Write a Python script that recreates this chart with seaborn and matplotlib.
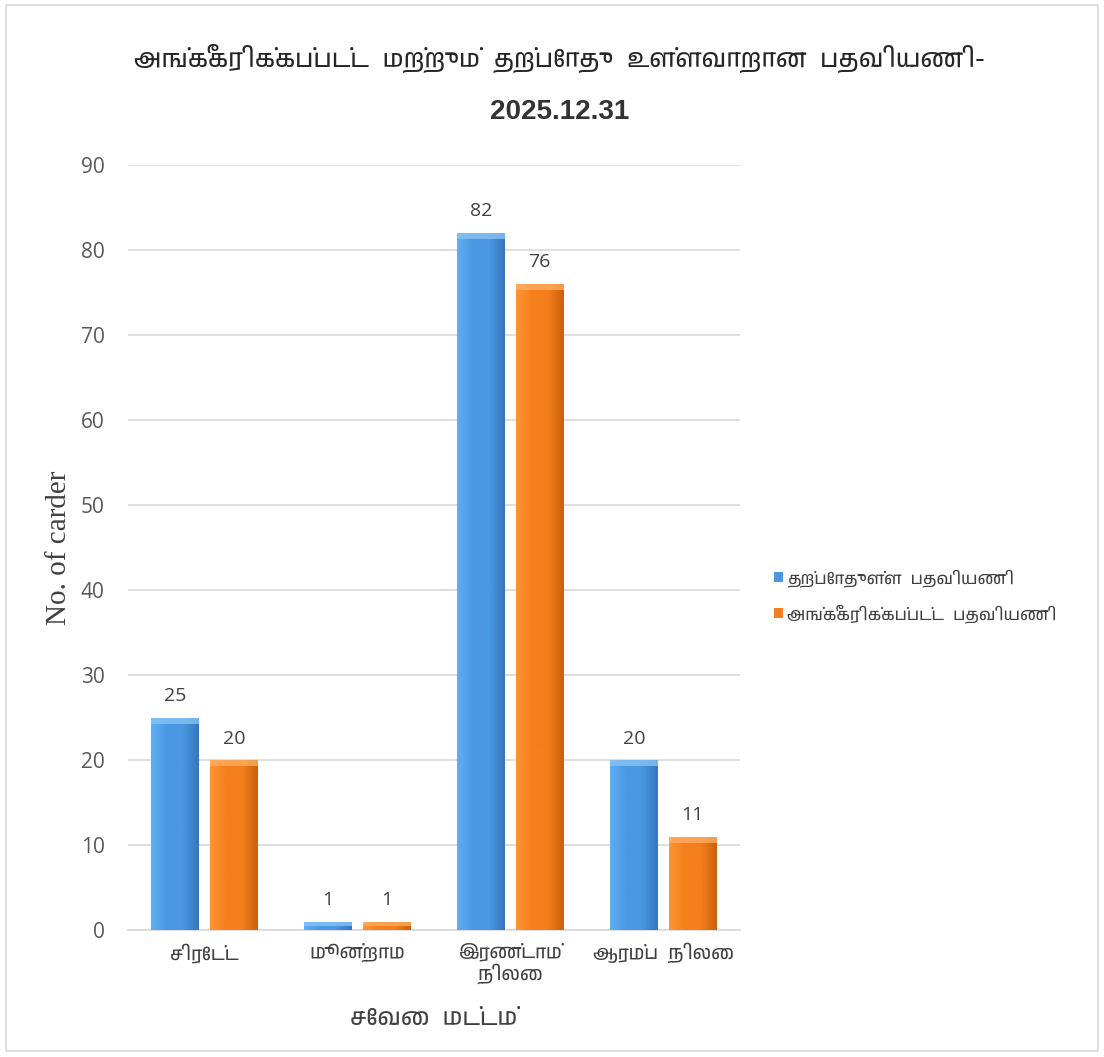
import logging
import matplotlib
matplotlib.use("Agg")
import matplotlib.pyplot as plt
import matplotlib.font_manager as fm
from matplotlib.colors import LinearSegmentedColormap
import numpy as np
import pandas as pd
import seaborn as sns

logging.getLogger("matplotlib.font_manager").setLevel(logging.ERROR)

# data
categories = ["சிரேட்ட", "மூன்றாம", "இரண்டாம்\nநிலை", "ஆரம்ப  நிலை"]
current_staff = [25, 1, 82, 20]
approved_staff = [20, 1, 76, 11]
series_names = ["தற்போதுள்ள  பதவியணி", "அங்கீகரிக்கப்பட்ட  பதவியணி"]
title_line1 = "அங்கீகரிக்கப்பட்ட  மற்றும்  தற்போது  உள்ளவாறான  பதவியணி-"
title_line2 = "2025.12.31"
yticks = [0, 10, 20, 30, 40, 50, 60, 70, 80, 90]

# find a font that has Tamil glyphs, if any
tamil_fonts = [f.name for f in fm.fontManager.ttflist if "tamil" in f.name.lower()]
tamil = tamil_fonts[:1] + ["DejaVu Sans"]

df = pd.DataFrame({
    "level": categories * 2,
    "count": current_staff + approved_staff,
    "series": [series_names[0]] * 4 + [series_names[1]] * 4,
})

sns.set_style("white")
plt.rcParams["font.family"] = ["Open Sans", "DejaVu Sans"]

fig = plt.figure(figsize=(11.04, 10.57), dpi=100)
ax = fig.add_axes([0.116, 0.120, 0.554, 0.724])

colors = ["#4A98E2", "#F47F1C"]
sns.barplot(data=df, x="level", y="count", hue="series", palette=colors,
            width=0.77, gap=0.19, ax=ax, saturation=1, legend=True,
            edgecolor="none", zorder=3)

# bevelled look: horizontal shading clipped to each bar, plus a light top cap
shades = [
    LinearSegmentedColormap.from_list("b", ["#5FAEF2", "#4A98E2", "#4A98E2", "#3677BD"]),
    LinearSegmentedColormap.from_list("o", ["#FF9433", "#F47F1C", "#F47F1C", "#C9610C"]),
]
caps = ["#8CC6F7", "#FFB066"]
grad = np.linspace(0, 1, 64).reshape(1, -1)
for bars, cmap, cap in zip(ax.containers, shades, caps):
    for b in bars:
        x0, w, h = b.get_x(), b.get_width(), b.get_height()
        im = ax.imshow(grad, cmap=cmap, extent=[x0, x0 + w, 0, h], aspect="auto",
                       zorder=4, interpolation="bilinear")
        im.set_clip_path(b)
        capy = min(0.7, h * 0.5)
        ax.fill_between([x0, x0 + w], h - capy, h, color=cap, zorder=5, linewidth=0, alpha=0.75)
    ax.bar_label(bars, fontsize=14, color="#404040", padding=9)

ax.set_ylim(0, 90)
ax.set_xlim(-0.5, 3.5)
ax.set_yticks(yticks)
ax.yaxis.grid(True, color="#D9D9D9", linewidth=1.2, zorder=0)
ax.set_axisbelow(True)
for s in ["top", "right", "left"]:
    ax.spines[s].set_visible(False)
ax.spines["bottom"].set_color("#D9D9D9")
ax.spines["bottom"].set_linewidth(1.2)
ax.tick_params(axis="y", length=0, labelsize=15, labelcolor="#595959", pad=17)
ax.tick_params(axis="x", length=0, labelsize=13.5, labelcolor="#404040", pad=9)
for t in ax.get_xticklabels():
    t.set_family(tamil)
    t.set_linespacing(1.1)

ax.set_xlabel("சேவை  மட்டம்", family=tamil, fontsize=17, color="#404040", labelpad=18)
ax.set_ylabel("No. of carder", family="Liberation Serif", fontsize=21,
              color="#404040", labelpad=6)

leg = ax.legend(loc="center left", bbox_to_anchor=(1.04, 0.437), frameon=False,
                fontsize=12, handlelength=0.55, handleheight=0.55,
                handletextpad=0.25, labelspacing=1.0, borderaxespad=0.2)
for t in leg.get_texts():
    t.set_family(tamil)
    t.set_color("#404040")

fig.text(0.507, 0.945, title_line1, ha="center", va="center", fontsize=18,
         family=tamil, color="#262626", fontweight="bold")
fig.text(0.507, 0.894, title_line2, ha="center", va="center", fontsize=20,
         family=["Liberation Sans", "DejaVu Sans"], color="#333333", fontweight="bold")

# chart frame
fig.patches.append(plt.Rectangle((0.005, 0.006), 0.99, 0.989, transform=fig.transFigure,
                                 fill=False, edgecolor="#D9D9D9", linewidth=1.2))

fig.savefig("out.png", dpi=100, facecolor="white")
